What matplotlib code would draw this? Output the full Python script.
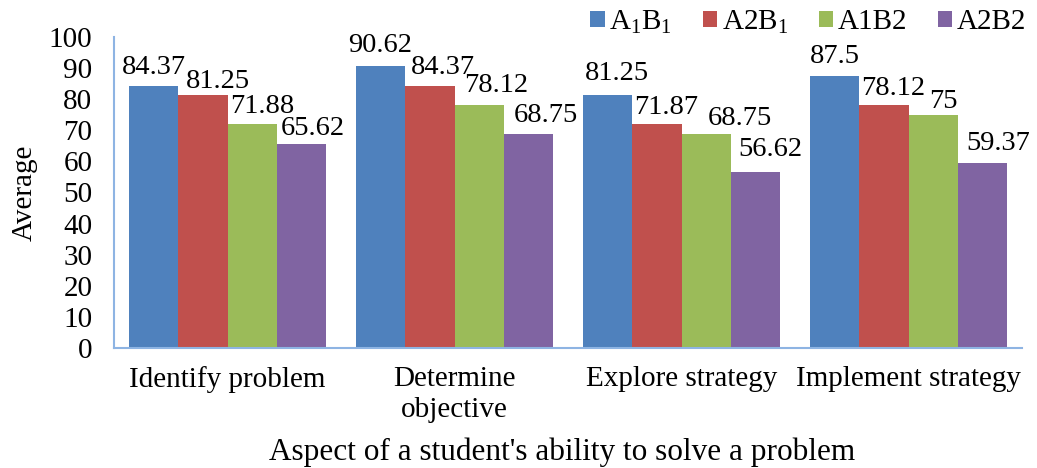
import matplotlib
matplotlib.use("Agg")
import matplotlib.pyplot as plt
import numpy as np

categories = ["Identify problem", "Determine\nobjective", "Explore strategy", "Implement strategy"]
series_names = [r"A$_\mathrm{1}$B$_\mathrm{1}$", r"A2B$_\mathrm{1}$", "A1B2", "A2B2"]
A1B1 = [84.37, 90.62, 81.25, 87.5]
A2B1 = [81.25, 84.37, 71.87, 78.12]
A1B2 = [71.88, 78.12, 68.75, 75]
A2B2 = [65.62, 68.75, 56.62, 59.37]
colors = ["#4F81BD", "#C0504D", "#9BBB59", "#8064A2"]

# data-label nudges in pixels (dx right, dy up from bar top), per series and category
label_dx = [[0, 0, 9, 0], [15, 13, 9, 9], [10, 17, 34, 10], [11, 17, 15, 16]]
label_dy = [[12, 14, 15, 13], [7, 12, 10, 10], [11, 13, 9, 7], [9, 12, 16, 13]]

plt.rcParams["font.family"] = ["Liberation Serif", "DejaVu Serif"]
plt.rcParams["mathtext.fontset"] = "custom"
plt.rcParams["mathtext.rm"] = "Liberation Serif"
plt.rcParams["mathtext.it"] = "Liberation Serif:italic"

DPI = 100
fig = plt.figure(figsize=(10.37, 4.68), dpi=DPI)
ax = fig.add_axes([114/1037, 120/468, (1022-114)/1037, (348-37)/468])
px2pt = 72 / DPI

data = [A1B1, A2B1, A1B2, A2B2]
x = np.arange(len(categories))
n = len(data)
gw = 0.87
bw = gw / n
for i, (vals, c, name) in enumerate(zip(data, colors, series_names)):
    pos = x - gw/2 + bw*(i+0.5)
    ax.bar(pos, vals, width=bw, color=c, label=name, zorder=2)
    for j, (p, v) in enumerate(zip(pos, vals)):
        ax.annotate(f"{v:g}", (p, v),
                    xytext=(label_dx[i][j]*px2pt, label_dy[i][j]*px2pt),
                    textcoords="offset points",
                    ha="center", va="baseline", fontsize=20.5)

ax.set_xlim(-0.5, len(categories)-0.5)
ax.set_ylim(0, 100)
ax.set_yticks(range(0, 101, 10))
ax.set_xticks(x)
ax.set_xticklabels(categories, fontsize=21, linespacing=1.25, va="top")
ax.tick_params(axis="y", labelsize=21, length=0, pad=15.5)
ax.tick_params(axis="x", length=0, pad=13)
for s in ["top", "right"]:
    ax.spines[s].set_visible(False)
for s in ["left", "bottom"]:
    ax.spines[s].set_color("#8EB4E3")
    ax.spines[s].set_linewidth(1.5)
ax.set_ylabel("Average", fontsize=21, labelpad=8)
fig.text(562/1037, 1 - 452/468, "Aspect of a student's ability to solve a problem",
         ha="center", va="center", fontsize=22.5)

leg = fig.legend(loc="center right", bbox_to_anchor=(1026/1037, 1 - 22/468), ncol=4,
                 frameon=False, fontsize=21, handlelength=0.5, handleheight=0.5,
                 handletextpad=0.15, columnspacing=1.05, borderpad=0, borderaxespad=0)

fig.savefig("out.png", dpi=DPI)
